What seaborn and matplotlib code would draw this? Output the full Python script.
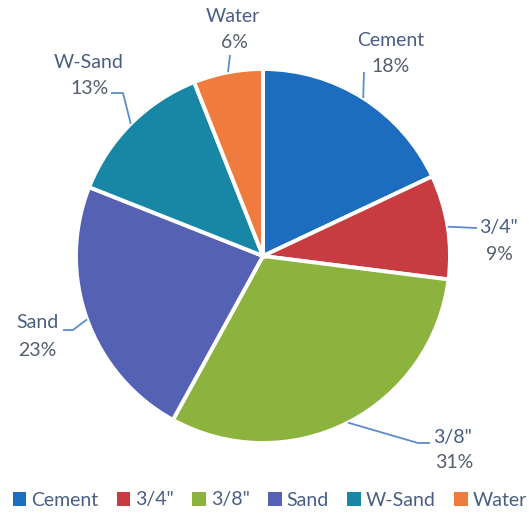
import numpy as np
import seaborn as sns
import matplotlib.pyplot as plt
from matplotlib.patches import Patch

# mix proportions (%)
materials = ['Cement', '3/4"', '3/8"', 'Sand', 'W-Sand', 'Water']
shares = [18, 9, 31, 23, 13, 6]
slice_colors = ['#1c6cc0', '#c83b41', '#8cb33d', '#5561b3', '#1887a5', '#ef7c3e']

sns.set_theme(style='white')
plt.rcParams['font.family'] = ['Lato', 'DejaVu Sans']

W, H = 529, 515
fig = plt.figure(figsize=(W / 100, H / 100), dpi=100)
ax = fig.add_axes([0, 0, 1, 1])

def Y(y):
    # image row -> axes y
    return H - y

cx, cy, rad = 263, Y(256), 187
wedges, _ = ax.pie(shares, colors=sns.color_palette(slice_colors),
                   startangle=90, counterclock=False,
                   center=(cx, cy), radius=rad, frame=True,
                   wedgeprops=dict(edgecolor='white', linewidth=2.8))
ax.set_xlim(0, W)
ax.set_ylim(0, H)
ax.axis('off')

# label centres (name line, pct line) and leader path, in image pixels
name_xy = [(391, 40), (498, 228), (453, 438), (37, 323), (89, 62), (233, 17)]
pct_xy = [(391, 66), (499, 254), (454, 463), (37, 350), (90, 89), (234, 43)]
leader_pts = [[(364, 72)],
              [(477, 228)],
              [(418, 443), (430, 443)],
              [(73, 330), (63, 330)],
              [(123, 93), (111, 93)],
              [(230, 55)]]

name_col = '#485e84'
pct_col = '#555e6e'
line_col = '#5b8ccc'

for w, name, pct, nxy, pxy, pts in zip(wedges, materials, shares,
                                       name_xy, pct_xy, leader_pts):
    mid = np.deg2rad((w.theta1 + w.theta2) / 2)
    ax_, ay_ = cx + rad * np.cos(mid), cy + rad * np.sin(mid)
    xs = [ax_] + [p[0] for p in pts]
    ys = [ay_] + [Y(p[1]) for p in pts]
    ax.plot(xs, ys, color=line_col, lw=1.3, solid_capstyle='butt')
    ax.text(nxy[0], Y(nxy[1]), name, ha='center', va='center', fontsize=14,
            color=name_col)
    ax.text(pxy[0], Y(pxy[1]), f'{pct}%', ha='center', va='center',
            fontsize=14, color=pct_col)

handles = [Patch(facecolor=c, edgecolor='none') for c in slice_colors]
fig.legend(handles, materials, loc='center', bbox_to_anchor=(0.51, 1 - 500 / H),
           ncol=6, frameon=False, fontsize=14, handlelength=0.7,
           handleheight=0.7, handletextpad=0.25, columnspacing=0.95,
           labelcolor=name_col)

fig.savefig('out.png', dpi=100)
